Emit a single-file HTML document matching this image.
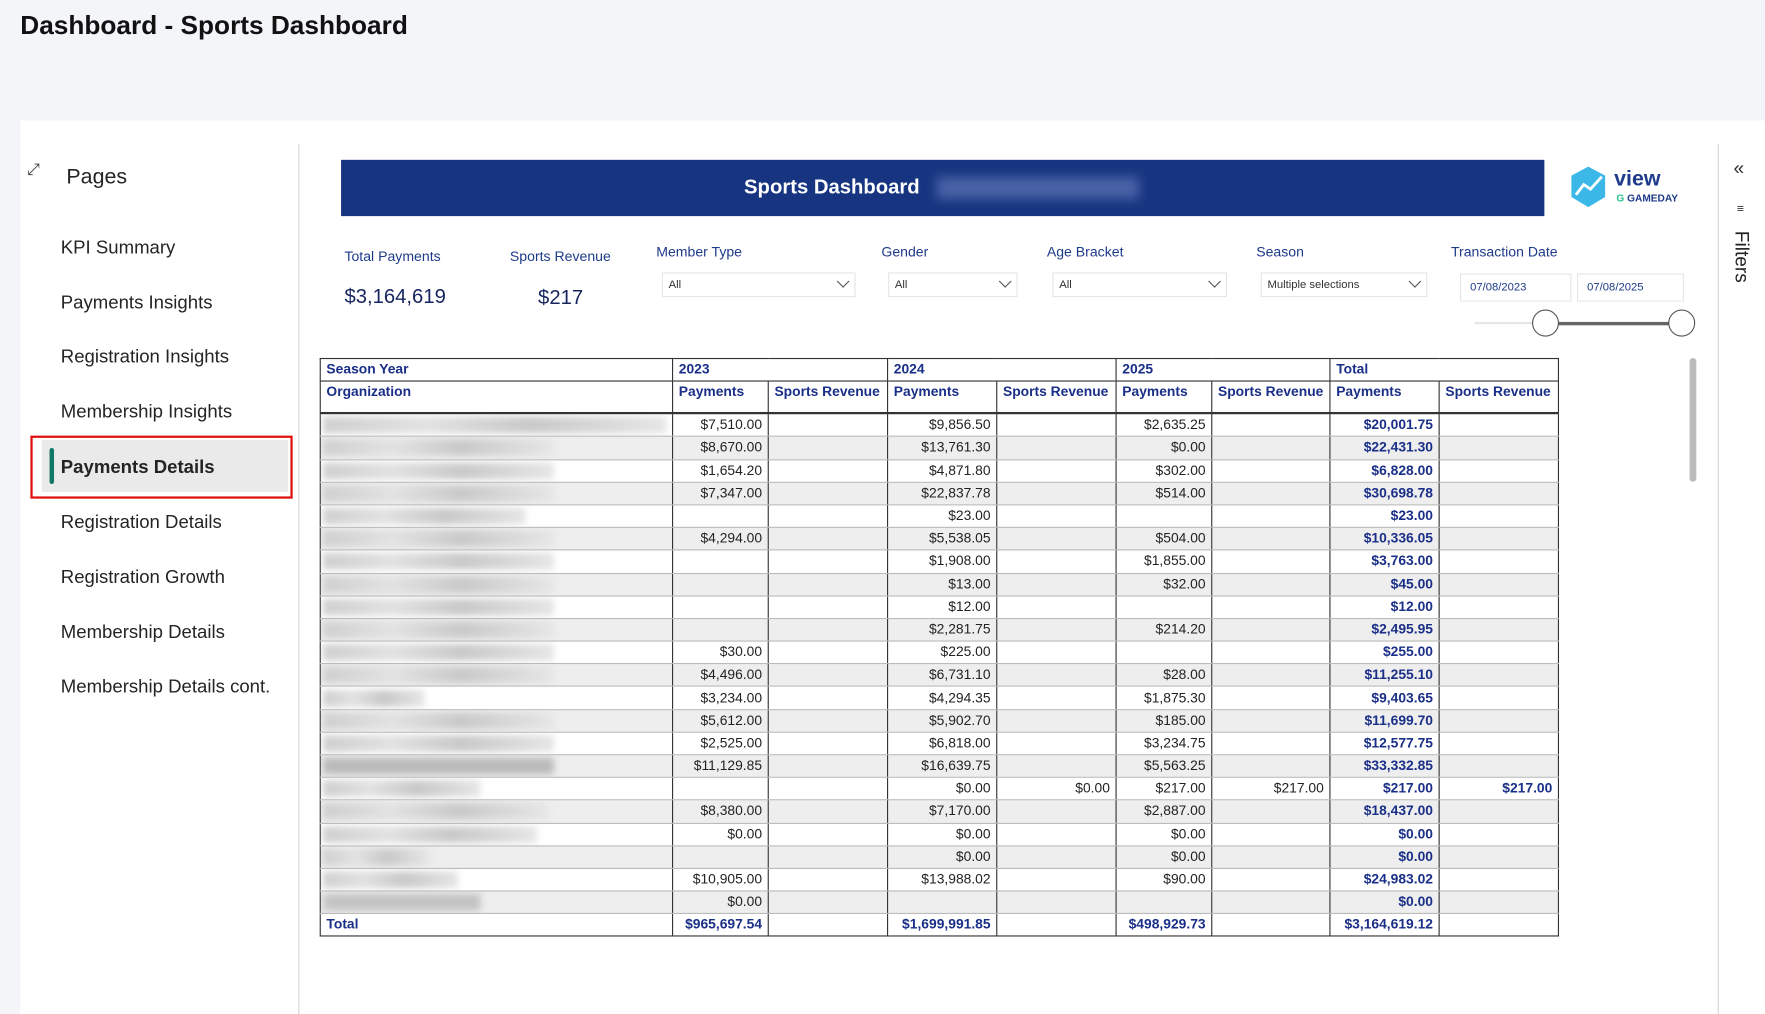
<!DOCTYPE html>
<html><head><meta charset="utf-8"><style>
html,body{margin:0;padding:0;width:1765px;height:1014px;overflow:hidden;background:#f3f5f9;}
#s{position:absolute;left:0;top:0;width:1568px;height:901px;transform:scale(1.12564);transform-origin:0 0;font-family:"Liberation Sans",sans-serif;}
.a{position:absolute;}
.nav{position:absolute;left:54px;font-size:16.5px;color:#252423;}
.lbl{position:absolute;font-size:12.5px;color:#1e3a8a;}
.box{position:absolute;height:22px;background:#fff;border:1px solid #e6e6e6;font-size:10px;color:#333;box-sizing:border-box;padding:5px 0 0 5px;}
.chev{position:absolute;right:6px;top:3px;width:7px;height:7px;border-right:1.2px solid #555;border-bottom:1.2px solid #555;transform:rotate(45deg);}
table{position:absolute;left:284px;top:318px;border-collapse:collapse;table-layout:fixed;width:1101px;font-size:12.3px;}
td{border-left:1px solid #333;border-right:1px solid #333;padding:0 5px;text-align:right;color:#222;height:19.2px;line-height:19px;white-space:nowrap;overflow:hidden;}
tr.h td{color:#1a2f87;font-weight:bold;text-align:left;border:1px solid #333;}
tr.d td{border-bottom:1px solid #bbb;}
tr.g td{background:#eeeeee;}
td.t{color:#1a2f87;font-weight:bold;}
td.o{padding:0 2px;}
.bl{height:15px;filter:blur(3px);background:linear-gradient(90deg,#cfcfcf,#e2e2e2 30%,#c9c9c9 60%,#e6e6e6);}
tr.tot td{color:#1a2f87;font-weight:bold;border-top:1px solid #333;border-bottom:1px solid #333;height:18px;}
</style></head><body><div id="s">
<div class="a" style="left:18px;top:9px;font-size:23.3px;font-weight:bold;color:#111;">Dashboard - Sports Dashboard</div>
<div class="a" style="left:18px;top:107px;width:1550px;height:794px;background:#fff;"></div>
<div class="a" style="left:265px;top:128px;width:1px;height:773px;background:#d6d6d6;"></div>
<div class="a" style="left:1526px;top:128px;width:1px;height:773px;background:#d6d6d6;"></div>
<div class="a" style="left:24px;top:142px;font-size:14px;color:#333;">⤢</div>
<div class="a" style="left:59px;top:147px;font-size:19px;color:#252423;">Pages</div>
<div class="nav" style="top:211px">KPI Summary</div>
<div class="nav" style="top:260px">Payments Insights</div>
<div class="nav" style="top:308px">Registration Insights</div>
<div class="nav" style="top:357px">Membership Insights</div>
<div class="a" style="left:27px;top:387px;width:229px;height:52px;border:2px solid #e01010;"></div>
<div class="a" style="left:37px;top:391px;width:219px;height:46px;background:#eaeaea;"></div>
<div class="a" style="left:44px;top:398px;width:4px;height:32px;background:#117865;border-radius:2px;"></div>
<div class="nav" style="top:406px;font-weight:bold">Payments Details</div>
<div class="nav" style="top:455px">Registration Details</div>
<div class="nav" style="top:504px">Registration Growth</div>
<div class="nav" style="top:553px">Membership Details</div>
<div class="nav" style="top:601px">Membership Details cont.</div>
<div class="a" style="left:1540px;top:140px;font-size:17px;color:#333;">«</div>
<div class="a" style="left:1543px;top:180px;font-size:11px;color:#333;">≡</div>
<div class="a" style="left:1537px;top:205px;font-size:17px;color:#222;writing-mode:vertical-rl;">Filters</div>
<div class="a" style="left:303px;top:142px;width:1069px;height:50px;background:#163480;"></div>
<div class="a" style="left:661px;top:156px;font-size:18px;font-weight:bold;color:#fff;">Sports Dashboard</div>
<div class="a" style="left:832px;top:157px;width:180px;height:20px;background:#4a62a6;filter:blur(5px);"></div>
<svg class="a" style="left:1394px;top:147px" width="34" height="38"><polygon points="17,1 32,9 32,28 17,37 2,28 2,9" fill="#3bb8e8"/><polyline points="6,26 13,17 19,21 29,10" stroke="#fff" stroke-width="2.5" fill="none"/></svg>
<div class="a" style="left:1434px;top:149px;font-size:19px;font-weight:bold;color:#1e3a8a;">view</div>
<div class="a" style="left:1436px;top:171px;font-size:9px;font-weight:bold;color:#1e3a8a;"><span style="color:#2bc28a">G</span> GAMEDAY</div>
<div class="lbl" style="left:306px;top:221px">Total Payments</div>
<div class="lbl" style="left:306px;top:253px;font-size:18px;color:#16255e">$3,164,619</div>
<div class="lbl" style="left:453px;top:221px">Sports Revenue</div>
<div class="lbl" style="left:478px;top:254px;font-size:18px;color:#16255e">$217</div>
<div class="lbl" style="left:583px;top:217px">Member Type</div>
<div class="box" style="left:588px;top:242px;width:172px;">All<span class="chev"></span></div>
<div class="lbl" style="left:783px;top:217px">Gender</div>
<div class="box" style="left:789px;top:242px;width:115px;">All<span class="chev"></span></div>
<div class="lbl" style="left:930px;top:217px">Age Bracket</div>
<div class="box" style="left:935px;top:242px;width:155px;">All<span class="chev"></span></div>
<div class="lbl" style="left:1116px;top:217px">Season</div>
<div class="box" style="left:1120px;top:242px;width:148px;">Multiple selections<span class="chev"></span></div>
<div class="lbl" style="left:1289px;top:217px">Transaction Date</div>
<div class="box" style="left:1297px;top:243px;width:99px;height:25px;color:#1e3a8a;padding:6px 0 0 8px;">07/08/2023</div>
<div class="box" style="left:1401px;top:243px;width:95px;height:25px;color:#1e3a8a;padding:6px 0 0 8px;">07/08/2025</div>
<div class="a" style="left:1310px;top:286px;width:63px;height:2px;background:#e6e6e6;"></div>
<div class="a" style="left:1373px;top:286px;width:121px;height:3px;background:#666;"></div>
<div class="a" style="left:1361px;top:275px;width:22px;height:22px;border:1.5px solid #555;border-radius:50%;background:#fff;"></div>
<div class="a" style="left:1482px;top:275px;width:22px;height:22px;border:1.5px solid #555;border-radius:50%;background:#fff;"></div>
<div class="a" style="left:1501px;top:318px;width:6px;height:110px;background:#bbb;border-radius:3px;"></div>
<table>
<colgroup><col style="width:313px"><col style="width:85px"><col style="width:106px"><col style="width:97px"><col style="width:106px"><col style="width:85px"><col style="width:105px"><col style="width:97px"><col style="width:106px"></colgroup>
<tr class="h"><td>Season Year</td><td colspan="2">2023</td><td colspan="2">2024</td><td colspan="2">2025</td><td colspan="2">Total</td></tr>
<tr class="h" style="border-bottom:2px solid #333"><td style="height:27px;vertical-align:top">Organization</td><td style="vertical-align:top">Payments</td><td style="vertical-align:top">Sports Revenue</td><td style="vertical-align:top">Payments</td><td style="vertical-align:top">Sports Revenue</td><td style="vertical-align:top">Payments</td><td style="vertical-align:top">Sports Revenue</td><td style="vertical-align:top">Payments</td><td style="vertical-align:top">Sports Revenue</td></tr>
<tr class="d"><td class="o"><div class="bl" style="width:305px"></div></td><td>$7,510.00</td><td></td><td>$9,856.50</td><td></td><td>$2,635.25</td><td></td><td class="t">$20,001.75</td><td></td></tr>
<tr class="d g"><td class="o"><div class="bl" style="width:205px"></div></td><td>$8,670.00</td><td></td><td>$13,761.30</td><td></td><td>$0.00</td><td></td><td class="t">$22,431.30</td><td></td></tr>
<tr class="d"><td class="o"><div class="bl" style="width:205px"></div></td><td>$1,654.20</td><td></td><td>$4,871.80</td><td></td><td>$302.00</td><td></td><td class="t">$6,828.00</td><td></td></tr>
<tr class="d g"><td class="o"><div class="bl" style="width:205px"></div></td><td>$7,347.00</td><td></td><td>$22,837.78</td><td></td><td>$514.00</td><td></td><td class="t">$30,698.78</td><td></td></tr>
<tr class="d"><td class="o"><div class="bl" style="width:180px"></div></td><td></td><td></td><td>$23.00</td><td></td><td></td><td></td><td class="t">$23.00</td><td></td></tr>
<tr class="d g"><td class="o"><div class="bl" style="width:205px"></div></td><td>$4,294.00</td><td></td><td>$5,538.05</td><td></td><td>$504.00</td><td></td><td class="t">$10,336.05</td><td></td></tr>
<tr class="d"><td class="o"><div class="bl" style="width:205px"></div></td><td></td><td></td><td>$1,908.00</td><td></td><td>$1,855.00</td><td></td><td class="t">$3,763.00</td><td></td></tr>
<tr class="d g"><td class="o"><div class="bl" style="width:205px"></div></td><td></td><td></td><td>$13.00</td><td></td><td>$32.00</td><td></td><td class="t">$45.00</td><td></td></tr>
<tr class="d"><td class="o"><div class="bl" style="width:205px"></div></td><td></td><td></td><td>$12.00</td><td></td><td></td><td></td><td class="t">$12.00</td><td></td></tr>
<tr class="d g"><td class="o"><div class="bl" style="width:205px"></div></td><td></td><td></td><td>$2,281.75</td><td></td><td>$214.20</td><td></td><td class="t">$2,495.95</td><td></td></tr>
<tr class="d"><td class="o"><div class="bl" style="width:205px"></div></td><td>$30.00</td><td></td><td>$225.00</td><td></td><td></td><td></td><td class="t">$255.00</td><td></td></tr>
<tr class="d g"><td class="o"><div class="bl" style="width:205px"></div></td><td>$4,496.00</td><td></td><td>$6,731.10</td><td></td><td>$28.00</td><td></td><td class="t">$11,255.10</td><td></td></tr>
<tr class="d"><td class="o"><div class="bl" style="width:90px"></div></td><td>$3,234.00</td><td></td><td>$4,294.35</td><td></td><td>$1,875.30</td><td></td><td class="t">$9,403.65</td><td></td></tr>
<tr class="d g"><td class="o"><div class="bl" style="width:205px"></div></td><td>$5,612.00</td><td></td><td>$5,902.70</td><td></td><td>$185.00</td><td></td><td class="t">$11,699.70</td><td></td></tr>
<tr class="d"><td class="o"><div class="bl" style="width:205px"></div></td><td>$2,525.00</td><td></td><td>$6,818.00</td><td></td><td>$3,234.75</td><td></td><td class="t">$12,577.75</td><td></td></tr>
<tr class="d g"><td class="o"><div class="bl" style="width:205px;background:#bbb"></div></td><td>$11,129.85</td><td></td><td>$16,639.75</td><td></td><td>$5,563.25</td><td></td><td class="t">$33,332.85</td><td></td></tr>
<tr class="d"><td class="o"><div class="bl" style="width:140px"></div></td><td></td><td></td><td>$0.00</td><td>$0.00</td><td>$217.00</td><td>$217.00</td><td class="t">$217.00</td><td class="t">$217.00</td></tr>
<tr class="d g"><td class="o"><div class="bl" style="width:200px"></div></td><td>$8,380.00</td><td></td><td>$7,170.00</td><td></td><td>$2,887.00</td><td></td><td class="t">$18,437.00</td><td></td></tr>
<tr class="d"><td class="o"><div class="bl" style="width:190px"></div></td><td>$0.00</td><td></td><td>$0.00</td><td></td><td>$0.00</td><td></td><td class="t">$0.00</td><td></td></tr>
<tr class="d g"><td class="o"><div class="bl" style="width:95px"></div></td><td></td><td></td><td>$0.00</td><td></td><td>$0.00</td><td></td><td class="t">$0.00</td><td></td></tr>
<tr class="d"><td class="o"><div class="bl" style="width:120px"></div></td><td>$10,905.00</td><td></td><td>$13,988.02</td><td></td><td>$90.00</td><td></td><td class="t">$24,983.02</td><td></td></tr>
<tr class="d g"><td class="o"><div class="bl" style="width:140px;background:#c4c4c4"></div></td><td>$0.00</td><td></td><td></td><td></td><td></td><td></td><td class="t">$0.00</td><td></td></tr>
<tr class="tot"><td style="text-align:left">Total</td><td>$965,697.54</td><td></td><td>$1,699,991.85</td><td></td><td>$498,929.73</td><td></td><td>$3,164,619.12</td><td></td></tr>
</table>
</div></body></html>
